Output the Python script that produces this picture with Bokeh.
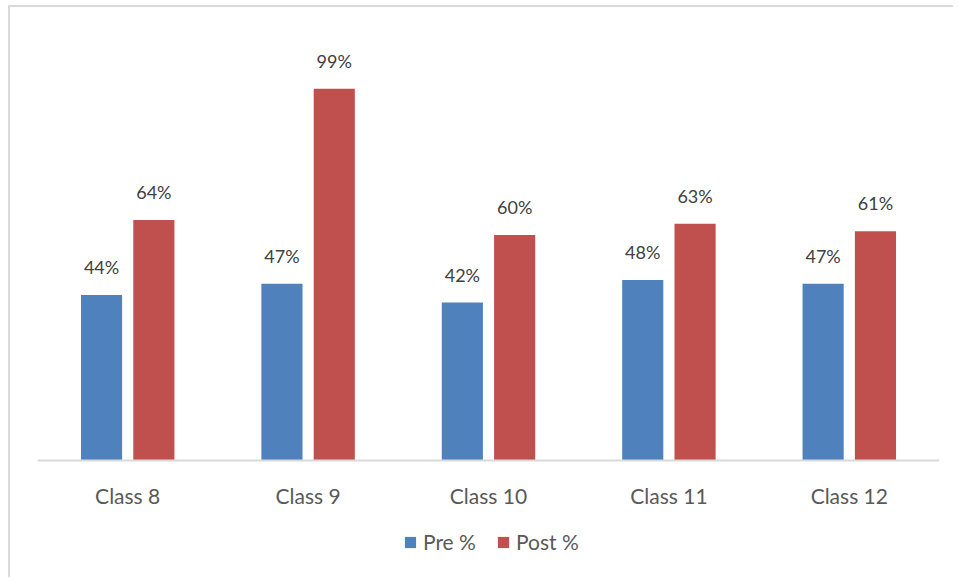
from bokeh.plotting import figure
from bokeh.models import ColumnDataSource, FactorRange, Range1d, Legend, LegendItem
from bokeh.transform import dodge
from bokeh.embed import file_html
from bokeh.resources import INLINE
from bokeh.core.properties import value

categories = ["Class 8", "Class 9", "Class 10", "Class 11", "Class 12"]
pre = [44, 47, 42, 48, 47]
post = [64, 99, 60, 63, 61]
pre_labels = [f"{v}%" for v in pre]
post_labels = [f"{v}%" for v in post]

src = ColumnDataSource(dict(cat=categories, pre=pre, post=post,
                            pre_lbl=pre_labels, post_lbl=post_labels))

p = figure(x_range=FactorRange(*categories, range_padding=0), y_range=Range1d(-30.53, 110),
           width=945, height=572, output_backend="svg", toolbar_location=None,
           min_border_left=27, min_border_right=16, min_border_top=40,
           min_border_bottom=5)
p.styles = {"border-left": "2px solid #d9d9d9", "border-top": "2px solid #d9d9d9",
            "box-sizing": "border-box", "margin": "5px 0 0 8px"}

BLUE = "#4f81bd"
RED = "#c0504d"
FONT = value("Lato")

r1 = p.vbar(x=dodge("cat", -0.145, range=p.x_range), top="pre", width=0.228,
            source=src, fill_color=BLUE, line_color=None)
r2 = p.vbar(x=dodge("cat", 0.145, range=p.x_range), top="post", width=0.228,
            source=src, fill_color=RED, line_color=None)

p.text(x=dodge("cat", -0.145, range=p.x_range), y="pre", text="pre_lbl", source=src,
       text_align="center", text_baseline="bottom", y_offset=-17,
       text_font=FONT, text_font_size="18px", text_color="#404040")
p.text(x=dodge("cat", 0.145, range=p.x_range), y="post", text="post_lbl", source=src,
       text_align="center", text_baseline="bottom", y_offset=-17,
       text_font=FONT, text_font_size="18px", text_color="#404040")

p.yaxis.visible = False
p.xgrid.grid_line_color = None
p.ygrid.grid_line_color = None
p.outline_line_color = None
p.xaxis.fixed_location = 0
p.xaxis.axis_line_color = "#d9d9d9"
p.xaxis.axis_line_width = 2
p.xaxis.major_tick_line_color = None
p.xaxis.minor_tick_line_color = None
p.xaxis.major_label_standoff = 17
p.xaxis.major_label_text_font = "Lato"
p.xaxis.major_label_text_font_size = "21px"
p.xaxis.major_label_text_color = "#595959"

legend = Legend(items=[LegendItem(label="Pre %", renderers=[r1]),
                       LegendItem(label="Post %", renderers=[r2])],
                orientation="horizontal", location=(366, 20),
                glyph_width=14, glyph_height=14, label_text_font="Lato",
                label_text_font_size="21px", label_text_color="#595959",
                border_line_color=None, background_fill_alpha=0,
                spacing=20, label_standoff=6, padding=0, margin=0)
p.add_layout(legend, "center")

open("out.html", "w").write(file_html(p, INLINE))
